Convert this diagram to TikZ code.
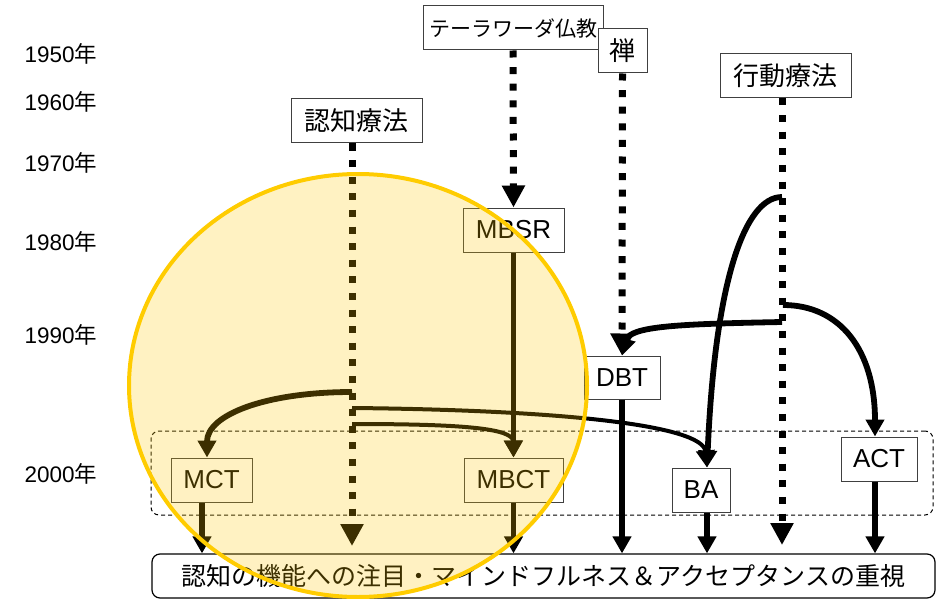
\documentclass[tikz,border=0pt]{standalone}
\usepackage{fontspec}
\setmainfont{Liberation Sans}
\newfontfamily\jp{Noto Sans CJK JP}
\usetikzlibrary{arrows.meta}
\definecolor{ringgold}{HTML}{FFCC00}
\definecolor{ringfill}{HTML}{FFC800}
\definecolor{boxline}{HTML}{404040}
\tikzset{
  box/.style={draw=boxline, line width=1pt, fill=white, inner sep=0pt, text=black,
    minimum height=44pt, font=\fontsize{26}{30}\selectfont},
  jbox/.style={box, font=\jp\fontsize{26}{30}\selectfont},
  year/.style={anchor=west, inner sep=0pt, font=\fontsize{22.5}{26}\selectfont},
  dotarrow/.style={line width=7pt, dash pattern=on 7pt off 9.6pt,
    -{Triangle[width=22pt,length=22pt]}},
  solidarrow/.style={line width=5.8pt, -{Triangle[width=18pt,length=17pt]}},
  thinarrow/.style={line width=4pt, -{Triangle[width=18pt,length=17pt]}},
  regionbox/.style={draw=black, line width=1pt, dash pattern=on 4pt off 3pt,
    rounded corners=8pt, inner sep=0pt},
  bottombox/.style={draw=black, line width=1.2pt, rounded corners=8pt, fill=white,
    inner sep=0pt, minimum width=783pt, minimum height=44pt,
    font=\jp\fontsize{25}{30}\selectfont},
}
\begin{document}
\begin{tikzpicture}[x=1pt,y=-1pt]
\useasboundingbox (0,0) rectangle (942,599);

% years
\node[year] (y1950) at (24.5,53.5) {1950{\jp 年}};
\node[year] (y1960) at (24.5,101.5) {1960{\jp 年}};
\node[year] (y1970) at (24.5,163) {1970{\jp 年}};
\node[year] (y1980) at (24.5,242) {1980{\jp 年}};
\node[year] (y1990) at (24.5,335) {1990{\jp 年}};
\node[year] (y2000) at (24.5,474) {2000{\jp 年}};

% 2000s region
\node[regionbox, minimum width=782pt, minimum height=84pt] (era) at (542,473) {};

% helper coordinates
\coordinate (n1) at (352,392);
\coordinate (n2) at (352,408);
\coordinate (n3) at (352,424);
\coordinate (k1) at (782,197);
\coordinate (k2) at (782,322);
\coordinate (k3) at (783,305);
\coordinate (nEnd) at (352,546);
\coordinate (kEnd) at (782,545);
\coordinate (xa) at (207,0);
\coordinate (xm) at (202,0);
\coordinate (xba) at (707,0);
\coordinate (xact) at (875,0);

% boxes
\node[jbox, minimum width=180pt, font=\jp\fontsize{21}{26}\selectfont] (th) at (513,28) {テーラワーダ仏教};
\node[jbox, minimum width=49pt] (zen) at (622.5,51) {禅};
\node[jbox, minimum width=131pt] (kodo) at (785.5,76) {行動療法};
\node[jbox, minimum width=131pt] (ninchi) at (356.5,121) {認知療法};
\node[box, minimum width=101pt] (mbsr) at (513.5,230) {MBSR};
\node[box, minimum width=76pt, minimum height=43pt] (dbt) at (622,377.5) {DBT};
\node[box, minimum width=58pt] (ba) at (701,490) {BA};
\node[box, minimum width=76pt] (act) at (879,459) {ACT};
\node[box, minimum width=81pt] (mct) at (211.5,480) {MCT};
\node[box, minimum width=99pt] (mbct) at (513.5,480) {MBCT};
\node[bottombox] (bot) at (543.5,576) {認知の機能への注目・マインドフルネス＆アクセプタンスの重視};

% dotted lineages
\draw[dotarrow] (ninchi.south -| nEnd) -- (nEnd);
\draw[dotarrow] (th.south) -- (mbsr.north);
\draw[dotarrow] (zen.south) -- (dbt.north);
\draw[dotarrow] (kodo.south -| kEnd) -- (kEnd);

% curved influences
\draw[solidarrow] (n1) .. controls (265,392) and (207,415) .. (mct.north -| xa);
\draw[thinarrow] (n2) .. controls (560,410) and (703,425) .. (ba.north -| xba);
\draw[thinarrow] (n3) .. controls (460,424) and (513,428) .. (mbct.north);
\draw[solidarrow] (k1) .. controls (745,197) and (715,280) .. (ba.north -| xba);
\draw[solidarrow] (k2) .. controls (680,324) and (630,326) .. (dbt.north);
\draw[solidarrow] (k3) .. controls (840,305) and (875,350) .. (act.north -| xact);

% vertical lines
\draw[solidarrow] (mbsr.south) -- (mbct.north);
\draw[solidarrow] (mct.south -| xm) -- (bot.north -| xm);
\draw[solidarrow] (mbct.south) -- (mbct.south |- bot.north);
\draw[solidarrow] (dbt.south) -- (dbt.south |- bot.north);
\draw[solidarrow] (ba.south -| xba) -- (bot.north -| xba);
\draw[solidarrow] (act.south -| xact) -- (bot.north -| xact);

% highlight ellipse
\draw[draw=ringgold, line width=4pt, fill=ringfill, fill opacity=0.24]
  (358,385.5) ellipse [x radius=229pt, y radius=211.5pt];
\end{tikzpicture}
\end{document}
